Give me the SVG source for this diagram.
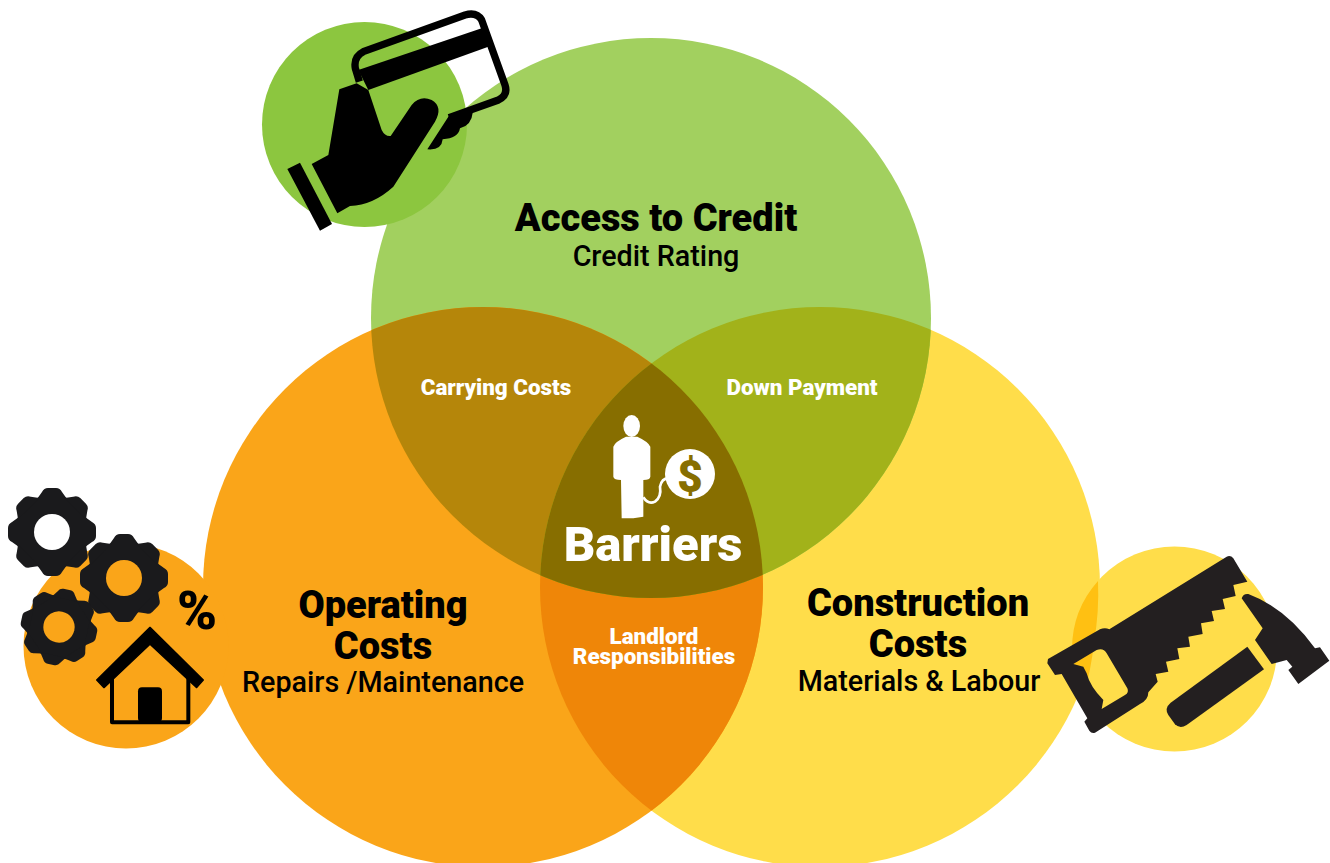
<svg xmlns="http://www.w3.org/2000/svg" xmlns:xlink="http://www.w3.org/1999/xlink" width="1330" height="863" viewBox="0 0 1330 863">
<style>
text{font-family:Roboto,"Liberation Sans",sans-serif;text-anchor:middle}
.h{font-weight:900;font-size:38px;fill:#000}
.s{font-weight:500;font-size:28.7px;fill:#000}
.o{font-weight:900;font-size:22.400px;fill:#fff}
.i{fill:#000}
.g{fill:#1a1a1c}
</style>
<defs>
<clipPath id="cG"><circle cx="651" cy="318" r="280"/></clipPath>
<clipPath id="cO"><circle cx="483" cy="587" r="280"/></clipPath>
<clipPath id="cY"><circle cx="820" cy="587" r="280"/></clipPath>
<g id="gear">
<circle r="37" class="g"/>
<g id="t4"><path id="t" class="g" d="M-15-33L-10-40Q-8-44-4-44H4Q8-44 10-40L15-33Z"/><use xlink:href="#t" transform="rotate(45)"/><use xlink:href="#t" transform="rotate(90)"/><use xlink:href="#t" transform="rotate(135)"/></g>
<use xlink:href="#t4" transform="rotate(180)"/>
</g>
</defs>
<g id="small-circles">
<circle cx="1174.500" cy="649" r="102.500" fill="#ffdd4a"/>
</g>
<g id="venn">
<circle cx="820" cy="587" r="280" fill="#ffdd4a"/>
<path d="M1072 649A102.500 102.500 0 0 1 1098 581A280 280 0 0 1 1094 642A280 280 0 0 1 1083 697A102.500 102.500 0 0 1 1072 649Z" fill="#ffc012"/>
<circle cx="651" cy="318" r="280" fill="#a2d05f"/>
<circle cx="483" cy="587" r="280" fill="#faa519"/>
<g clip-path="url(#cO)"><circle cx="820" cy="587" r="280" fill="#ef8608"/></g>
<g clip-path="url(#cG)"><circle cx="483" cy="587" r="280" fill="#b5860a"/><circle cx="820" cy="587" r="280" fill="#a2b21a"/></g>
<g clip-path="url(#cG)"><g clip-path="url(#cO)"><circle cx="820" cy="587" r="280" fill="#876e00"/></g></g>
</g>
<g id="node-credit">
<circle cx="364.500" cy="124.500" r="102.500" fill="#8cc63f"/>
<g transform="translate(250,0) scale(.33333)">
<path class="i" d="M112 507L150 488L246 672L210 692Z"/>
<path class="i" d="M320 250L268 268L235 465L185 492L262 640L300 618Q370 615 430 560L555 365Q580 320 545 300Q510 285 485 315L422 408Q405 410 395 390L355 270Z"/>
<path class="i" d="M597 347L668 338Q665 375 630 385Q625 415 578 418Q575 452 532 448Z"/>
<path d="M328 245L316 205Q310 170 340 155L645 45Q680 35 695 60L765 255Q775 285 745 300L597 353" fill="none" stroke="#000" stroke-width="22"/>
<path class="i" d="M325 210L695 85L715 140L355 270Z"/>
</g>
<text class="h" x="656" y="231">Access to Credit</text>
<text class="s" x="656" y="266">Credit Rating</text>
</g>
<g id="node-operating">
<circle cx="126" cy="646" r="102.500" fill="#faa519"/>
<g transform="translate(52,532)"><use xlink:href="#gear"/><circle r="18" fill="#fff"/></g>
<g transform="translate(124,578)"><use xlink:href="#gear"/><circle r="18" fill="#faa519"/></g>
<g transform="translate(59,627) rotate(12) scale(.87)"><use xlink:href="#gear"/><circle r="18" fill="#faa519"/></g>
<text x="197" y="629" style="font-weight:900;font-size:54px;fill:#000">%</text>
<g transform="translate(0,480) scale(.33333)">
<path class="i" d="M450 442L610 600L590 623L450 493L312 623L290 600Z" stroke="#000" stroke-width="4" stroke-linejoin="round"/>
<path d="M336 595V727H565V595" fill="none" stroke="#000" stroke-width="12" stroke-linejoin="round"/>
<rect class="i" x="414" y="622" width="72" height="104" rx="12"/>
</g>
<text class="h" x="383" y="618">Operating</text>
<text class="h" x="383" y="659">Costs</text>
<text class="s" x="383" y="692">Repairs /Maintenance</text>
</g>
<g id="node-construction">
<g transform="translate(1040,540) scale(.33333)" fill="#231f20">
<path fill-rule="evenodd" d="M24 357L180 268Q195 262 208 268L560 50Q572 45 580 55L622 125L580 135L587 168L548 177L555 207L515 213L522 243L483 250L488 282L445 290L450 320L412 325L418 357L378 365L385 395L347 402L353 425L325 457Q325 480 300 492L165 578Q155 582 148 572L133 545L142 535L65 402L45 405L22 370Z M100 372L170 330Q190 322 200 340L262 445Q268 458 255 465L185 507L190 480Q150 440 140 400L130 380Z"/>
<path d="M622 320L672 388L440 555Q420 568 405 553L385 525Q372 505 392 488Z"/>
<path d="M605 175Q610 160 625 162Q740 205 825 325L840 322L868 362L775 432L745 390L757 380L740 360L695 372L645 300L668 265Z"/>
</g>
<text class="h" x="918" y="616">Construction</text>
<text class="h" x="918" y="657">Costs</text>
<text class="s" x="919" y="691">Materials &amp; Labour</text>
</g>
<g id="node-overlaps">
<text class="o" x="496" y="395">Carrying Costs</text>
<text class="o" x="802" y="395">Down Payment</text>
<text class="o" x="654" y="644">Landlord</text>
<text class="o" x="654" y="664">Responsibilities</text>
</g>
<g id="node-barriers">
<g transform="translate(540,400) scale(.33333)" fill="#fff">
<ellipse cx="275" cy="78" rx="25" ry="33"/>
<path d="M220 140Q225 125 258 110H292Q325 125 331 140V230Q330 240 310 240V350L280 355L245 355L243 240Q222 240 220 230Z"/>
<circle cx="450" cy="222" r="75"/>
<path d="M310 292Q325 315 345 305Q365 290 360 260Q365 235 385 235" fill="none" stroke="#fff" stroke-width="8"/>
</g>
<text x="690" y="492" style="font-weight:900;font-size:44px;fill:#876e00">$</text>
<text x="653" y="561" style="font-weight:900;font-size:49px;fill:#fff">Barriers</text>
</g>
</svg>
